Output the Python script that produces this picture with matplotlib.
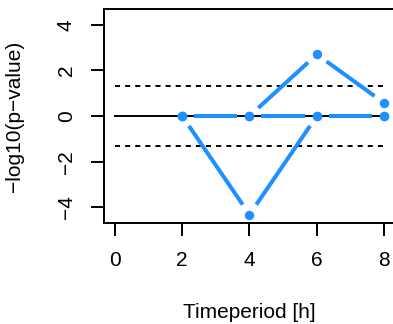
import numpy as np
import matplotlib
matplotlib.use("Agg")
import matplotlib.pyplot as plt

plt.rcParams["font.family"] = ["Liberation Sans", "DejaVu Sans"]

# ---------------------------------------------------------------------------
# Data
# ---------------------------------------------------------------------------
timepoints = [2, 4, 6, 8]
series_flat = [0.0, 0.0, 0.0, 0.0]
series_down = [0.0, -4.32, 0.0, 0.0]
series_up = [0.0, 0.0, 2.7, 0.57]
threshold = 1.301  # -log10(0.05)

x_ticks = [0, 2, 4, 6, 8]
y_ticks = [-4, -2, 0, 2, 4]
BLUE = "#1E90FF"
FS = 15

fig = plt.figure(figsize=(3.93, 3.24), dpi=100)
ax = fig.add_axes([104 / 393, 1 - 223 / 324, 291 / 393, 214 / 324])
ax.set_xlim(-0.32, 8.32)
ax.set_ylim(-4.69, 4.69)

# reference lines
ax.plot([0, 8], [0, 0], color="black", lw=1.4, zorder=1)
for yv in (threshold, -threshold):
    ax.plot([0, 8], [yv, yv], color="black", lw=1.4, dashes=(2.6, 2.6), zorder=1)


def draw_type_b(xs, ys, gap_px=12):
    """Line with gaps around points, like R's type='b'."""
    pts = ax.transData.transform(np.column_stack([xs, ys]))
    inv = ax.transData.inverted()
    for p0, p1 in zip(pts[:-1], pts[1:]):
        d = p1 - p0
        L = np.hypot(*d)
        if L <= 2 * gap_px:
            continue
        u = d / L
        a = inv.transform(p0 + u * gap_px)
        b = inv.transform(p1 - u * gap_px)
        ax.plot([a[0], b[0]], [a[1], b[1]], color=BLUE, lw=2.9,
                solid_capstyle="butt", zorder=2)
    ax.plot(xs, ys, "o", color=BLUE, ms=6.8, mec="none", zorder=3, clip_on=False)


for s in (series_flat, series_down, series_up):
    draw_type_b(timepoints, s)

# axes styling (R base look)
for side in ("top", "left", "bottom"):
    ax.spines[side].set_linewidth(1.4)
ax.spines["right"].set_visible(False)
ax.set_xticks(x_ticks)
ax.set_yticks(y_ticks)
ax.set_xticklabels([str(v) for v in x_ticks])
ax.set_yticklabels([str(v).replace("-", "\u2212") for v in y_ticks],
                   rotation=90, va="center")
ax.tick_params(axis="both", direction="out", length=9.3, width=1.4,
               labelsize=FS, color="black")
ax.tick_params(axis="x", pad=11)
ax.tick_params(axis="y", pad=11)

fig.text(249 / 393, 1 - 313 / 324, "Timeperiod [h]", ha="center", va="center",
         fontsize=FS)
fig.text(15 / 393, 1 - 116 / 324, "\u2212log10(p\u2212value)", ha="center",
         va="center", rotation=90, fontsize=FS)

fig.savefig("out.png", dpi=100)
